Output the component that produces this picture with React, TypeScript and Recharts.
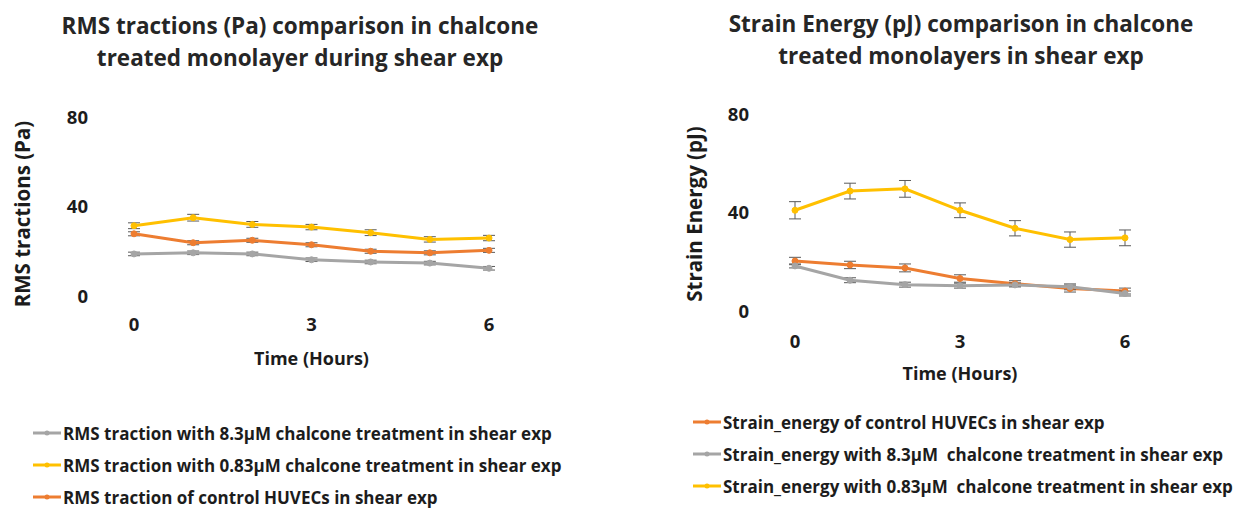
import React from 'react';
import { LineChart, Line, XAxis, YAxis, ErrorBar, Legend } from 'recharts';

const HOURS = [0, 1, 2, 3, 4, 5, 6];
const X_TICKS = [0, 3, 6];
const Y_TICKS = [0, 40, 80];

// RMS tractions (Pa), mean and error per hour
const RMS_83 = [18.8, 19.3, 18.8, 16.2, 15.2, 14.7, 12.4];
const RMS_83_ERR = [0.8, 0.8, 0.8, 0.8, 0.8, 0.8, 0.8];
const RMS_083 = [31.4, 35.0, 32.0, 30.8, 28.3, 25.3, 25.9];
const RMS_083_ERR = [1.3, 1.5, 1.3, 1.2, 1.3, 1.2, 1.2];
const RMS_CTRL = [27.8, 23.8, 24.9, 22.9, 20.0, 19.3, 20.4];
const RMS_CTRL_ERR = [0.9, 0.9, 0.9, 0.9, 0.9, 0.9, 0.9];

// Strain energy (pJ), mean and error per hour
const SE_CTRL = [20.3, 18.7, 17.5, 13.2, 11.1, 9.1, 8.1];
const SE_CTRL_ERR = [1.5, 1.5, 1.6, 1.5, 1.2, 1.4, 1.2];
const SE_83 = [18.3, 12.5, 10.7, 10.3, 10.6, 9.8, 7.1];
const SE_83_ERR = [0.8, 1.0, 1.0, 1.0, 0.8, 1.2, 1.0];
const SE_083 = [40.9, 48.7, 49.6, 40.9, 33.6, 29.0, 29.7];
const SE_083_ERR = [3.5, 3.2, 3.4, 3.0, 3.1, 3.1, 3.2];

const GRAY = '#A5A5A5';
const GOLD = '#FFC000';
const ORANGE = '#ED7D31';
const TEXT = '#1c1c1c';
const FONT = '"Open Sans", Lato, sans-serif';

type Series = { key: string; name: string; color: string; values: number[]; errors: number[] };

const RMS_SERIES: Series[] = [
  { key: 'rms83', name: 'RMS traction with 8.3\u00b5M chalcone treatment in shear exp', color: GRAY, values: RMS_83, errors: RMS_83_ERR },
  { key: 'rms083', name: 'RMS traction with 0.83\u00b5M chalcone treatment in shear exp', color: GOLD, values: RMS_083, errors: RMS_083_ERR },
  { key: 'rmsCtrl', name: 'RMS traction of control HUVECs in shear exp', color: ORANGE, values: RMS_CTRL, errors: RMS_CTRL_ERR },
];

const SE_SERIES: Series[] = [
  { key: 'seCtrl', name: 'Strain_energy of control HUVECs in shear exp', color: ORANGE, values: SE_CTRL, errors: SE_CTRL_ERR },
  { key: 'se83', name: 'Strain_energy with 8.3\u00b5M  chalcone treatment in shear exp', color: GRAY, values: SE_83, errors: SE_83_ERR },
  { key: 'se083', name: 'Strain_energy with 0.83\u00b5M  chalcone treatment in shear exp', color: GOLD, values: SE_083, errors: SE_083_ERR },
];

const buildRows = (series: Series[]) =>
  HOURS.map((t, i) => {
    const row: Record<string, number> = { t };
    series.forEach((s) => {
      row[s.key] = s.values[i];
      row[s.key + 'Err'] = s.errors[i];
    });
    return row;
  });

const makeLegend = (series: Series[]) => (props: any) => {
  const payload = [...(props.payload || [])].sort(
    (a: any, b: any) => series.findIndex((s) => s.key === a.dataKey) - series.findIndex((s) => s.key === b.dataKey)
  );
  return (
    <div style={{ fontFamily: FONT, fontWeight: 700, fontSize: 17, color: TEXT }}>
      {payload.map((p: any) => (
        <div key={p.dataKey} style={{ display: 'flex', alignItems: 'center', height: 32 }}>
          <svg width={29} height={10} style={{ marginRight: 1 }}>
            <line x1={0} y1={5} x2={28} y2={5} stroke={p.color} strokeWidth={3} />
            <circle cx={14} cy={5} r={2.5} fill={p.color} />
          </svg>
          <span style={{ whiteSpace: 'pre' }}>{p.value}</span>
        </div>
      ))}
    </div>
  );
};

const yTitle = (text: string, x: number, y: number) => () => (
  <text x={x} y={y} transform={`rotate(-90 ${x} ${y})`} textAnchor="middle" dominantBaseline="central"
    fontFamily={FONT} fontWeight={700} fontSize={20.5} fill={TEXT}>
    {text}
  </text>
);

const tickStyle = { fontFamily: FONT, fontWeight: 700, fontSize: 18.5, fill: TEXT };

function Panel({ series, title, yLabel, left, width, margin, yTickGap, xTickGap, titleX, titleTop, yLabelPos, legendPos }: any) {
  const rows = buildRows(series);
  return (
    <div style={{ position: 'absolute', left, top: 0, width, height: 510 }}>
      <div style={{ position: 'absolute', left: titleX - 300, top: titleTop, width: 600, textAlign: 'center', fontFamily: FONT, fontWeight: 700, fontSize: 22.5, lineHeight: '32px', color: '#262626' }}>
        {title.map((line: string) => <div key={line}>{line}</div>)}
      </div>
      <LineChart width={width} height={510} data={rows} margin={margin}>
        <XAxis dataKey="t" type="number" domain={[0, 6]} ticks={X_TICKS} axisLine={false} tickLine={false}
          tickSize={0} tickMargin={xTickGap} tick={tickStyle} height={70}
          label={{ value: 'Time (Hours)', position: 'insideBottom', offset: 1, style: { fontFamily: FONT, fontWeight: 700, fontSize: 18, fill: TEXT } }} />
        <YAxis type="number" domain={[0, 80]} ticks={Y_TICKS} axisLine={false} tickLine={false}
          tickSize={0} tickMargin={yTickGap} tick={tickStyle} width={margin.yw}
          label={{ content: yTitle(yLabel, yLabelPos[0], yLabelPos[1]) }} />
        <Legend verticalAlign="middle" layout="horizontal" align="center"
          wrapperStyle={{ position: 'absolute', left: legendPos[0], top: legendPos[1], width: 600 }}
          content={makeLegend(series)} />
        {series.map((s: Series) => (
          <Line key={s.key} type="linear" dataKey={s.key} name={s.name} stroke={s.color} strokeWidth={3}
            dot={{ r: 3, fill: s.color, stroke: s.color, strokeWidth: 1 }} activeDot={false} isAnimationActive={false}>
            <ErrorBar dataKey={s.key + 'Err'} direction="y" width={6} stroke="#5a5a5a" strokeWidth={1} isAnimationActive={false} />
          </Line>
        ))}
      </LineChart>
    </div>
  );
}

export default function App() {
  return (
    <div style={{ position: 'absolute', left: 0, top: 0, width: 1247, height: 510, background: '#fff', overflow: 'hidden' }}>
      <Panel
        series={RMS_SERIES}
        title={['RMS tractions (Pa) comparison in chalcone', 'treated monolayer during shear exp']}
        yLabel="RMS tractions (Pa)"
        left={0}
        width={620}
        margin={{ top: 117, right: 131, left: 0, bottom: 144, yw: 134 }}
        yTickGap={46}
        xTickGap={22}
        titleX={300}
        titleTop={10}
        yLabelPos={[22, 214]}
        legendPos={[33, 417]}
      />
      <Panel
        series={SE_SERIES}
        title={['Strain Energy (pJ) comparison in chalcone', 'treated monolayers in shear exp']}
        yLabel="Strain Energy (pJ)"
        left={620}
        width={627}
        margin={{ top: 114, right: 122, left: 0, bottom: 129, yw: 175 }}
        yTickGap={46}
        xTickGap={24}
        titleX={341}
        titleTop={8}
        yLabelPos={[74, 214]}
        legendPos={[73, 406]}
      />
    </div>
  );
}
